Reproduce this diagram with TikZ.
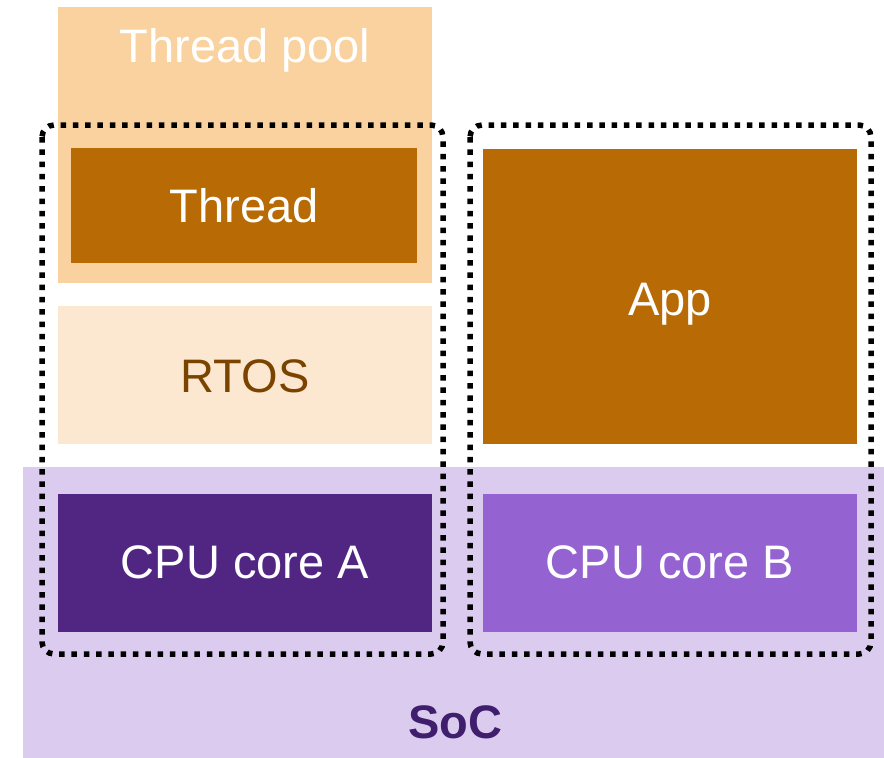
\documentclass[tikz,border=0pt]{standalone}
\usepackage{fontspec}
\setmainfont{Liberation Sans}
\usetikzlibrary{positioning}

\definecolor{poolfill}{RGB}{250,210,160}
\definecolor{threadfill}{RGB}{184,107,4}
\definecolor{rtosfill}{RGB}{252,232,208}
\definecolor{rtostext}{RGB}{122,68,0}
\definecolor{socfill}{RGB}{219,204,239}
\definecolor{soctext}{RGB}{64,30,110}
\definecolor{coreafill}{RGB}{81,38,131}
\definecolor{corebfill}{RGB}{148,99,209}

\def\bigfont{\fontsize{47}{52}\selectfont}

\begin{document}
\begin{tikzpicture}[x=1pt, y=-1pt,
  block/.style={anchor=north west, inner sep=0pt, outer sep=0pt},
  caption/.style={font=\bigfont, text=white, inner sep=0pt, text height=33.6pt, text depth=0pt},
  coreline/.style={line width=5.5pt, dash pattern=on 5.5pt off 6.8pt, rounded corners=12pt}]
  \useasboundingbox (0,0) rectangle (884,758);

  % SoC background
  \node[block, fill=socfill, minimum width=861pt, minimum height=291pt] (soc) at (23,467) {};
  \node[caption, font=\bfseries\bigfont, text=soctext] (socname) at (455,722) {SoC};

  % thread pool and RTOS on core A
  \node[block, fill=poolfill, minimum width=374pt, minimum height=276pt] (pool) at (58,7) {};
  \node[caption] (poolname) at (245,46) {Thread pool};
  \node[block, fill=threadfill, minimum width=346pt, minimum height=115pt] (thread) at (71,148) {};
  \node[caption] (threadname) at (244,206) {Thread};
  \node[block, fill=rtosfill, minimum width=374pt, minimum height=138pt] (rtos) at (58,306) {};
  \node[caption, text=rtostext] (rtosname) at (245,376) {RTOS};

  % bare-metal app on core B
  \node[block, fill=threadfill, minimum width=374pt, minimum height=295pt] (app) at (483,149) {};
  \node[caption] (appname) at (670,299) {App};

  % cores
  \node[block, fill=coreafill, minimum width=374pt, minimum height=138pt] (corea) at (58,494) {};
  \node[caption] (coreaname) at (245,562) {CPU core A};
  \node[block, fill=corebfill, minimum width=374pt, minimum height=138pt] (coreb) at (483,494) {};
  \node[caption] (corebname) at (670,562) {CPU core B};

  % the two cores' domains
  \draw[coreline] (42,125) rectangle (443,654);
  \draw[coreline] (470,125) rectangle (871,654);
\end{tikzpicture}
\end{document}
